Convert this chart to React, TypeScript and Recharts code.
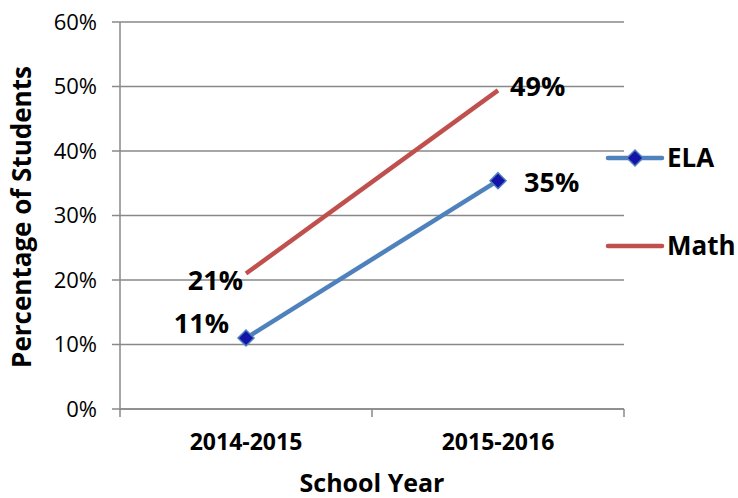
import React from 'react';
import {
  LineChart,
  Line,
  XAxis,
  YAxis,
  CartesianGrid,
  Legend,
  LabelList,
} from 'recharts';

const years = ['2014-2015', '2015-2016'];
const ela = [0.11, 0.354];
const math = [0.21, 0.494];
const yTicks = [0, 0.1, 0.2, 0.3, 0.4, 0.5, 0.6];

const data = years.map((year, i) => ({
  pos: i + 0.5,
  year,
  ela: ela[i],
  math: math[i],
}));

const FONT = '"Open Sans", sans-serif';
const GRID = '#898989';
const ELA_COLOR = '#4F81BD';
const MATH_COLOR = '#C0504D';

const pct = (v: number) => `${Math.round(v * 100)}%`;

function XTick({ x, y, payload }: any) {
  const v = payload.value;
  if (Number.isInteger(v)) {
    return <line x1={x} x2={x} y1={y} y2={y + 8} stroke={GRID} strokeWidth={1.5} />;
  }
  const label = years[Math.floor(v)];
  return (
    <text x={x} y={y + 41} textAnchor="middle" fontFamily={FONT} fontWeight={700} fontSize={23} fill="#000">
      {label}
    </text>
  );
}

function YTitle({ viewBox }: any) {
  const cx = 31;
  const cy = 217;
  return (
    <text
      x={cx}
      y={cy}
      transform={`rotate(-90 ${cx} ${cy})`}
      textAnchor="middle"
      fontFamily={FONT}
      fontWeight={700}
      fontSize={26}
      fill="#000"
    >
      Percentage of Students
    </text>
  );
}

function XTitle({ viewBox }: any) {
  const cx = viewBox.x + viewBox.width / 2;
  return (
    <text x={cx} y={492} textAnchor="middle" fontFamily={FONT} fontWeight={700} fontSize={25} fill="#000">
      School Year
    </text>
  );
}

function Diamond({ cx, cy }: any) {
  if (cx == null || cy == null) return null;
  const r = 8;
  return (
    <path
      d={`M${cx},${cy - r}L${cx + r},${cy}L${cx},${cy + r}L${cx - r},${cy}Z`}
      fill="#1414A8"
      stroke={ELA_COLOR}
      strokeWidth={1.5}
    />
  );
}

const makeLabel = (offsets: { dx: number; dy: number; anchor: string }[]) =>
  function DataLabel({ x, y, value, index }: any) {
    const o = offsets[index];
    return (
      <text
        x={x + o.dx}
        y={y + o.dy}
        textAnchor={o.anchor}
        fontFamily={FONT}
        fontWeight={700}
        fontSize={27}
        fill="#000"
      >
        {pct(value)}
      </text>
    );
  };

const elaLabel = makeLabel([
  { dx: -17, dy: -5, anchor: 'end' },
  { dx: 26, dy: 11, anchor: 'start' },
]);
const mathLabel = makeLabel([
  { dx: -3, dy: 16, anchor: 'end' },
  { dx: 12, dy: 6, anchor: 'start' },
]);

function LegendBox() {
  const items = [
    { name: 'ELA', color: ELA_COLOR, y: 18, marker: true },
    { name: 'Math', color: MATH_COLOR, y: 106, marker: false },
  ];
  return (
    <svg width={140} height={130} style={{ overflow: 'visible' }}>
      {items.map((it) => (
        <g key={it.name}>
          <line x1={8} x2={62} y1={it.y} y2={it.y} stroke={it.color} strokeWidth={4.5} strokeLinecap="round" />
          {it.marker && <Diamond cx={35} cy={it.y} />}
          <text x={67} y={it.y + 9} fontFamily={FONT} fontWeight={700} fontSize={26} fill="#000">
            {it.name}
          </text>
        </g>
      ))}
    </svg>
  );
}

export default function App() {
  return (
    <div style={{ position: 'absolute', left: 0, top: 0, background: '#fff' }}>
      <LineChart width={738} height={498} data={data} margin={{ top: 22, right: 0, bottom: 0, left: 0 }}>
        <CartesianGrid vertical={false} stroke={GRID} strokeWidth={1.5} />
        <XAxis
          dataKey="pos"
          type="number"
          domain={[0, 2]}
          ticks={[0, 0.5, 1, 1.5, 2]}
          interval={0}
          tickSize={0}
          tickMargin={0}
          tickLine={false}
          axisLine={{ stroke: GRID, strokeWidth: 1.5 }}
          tick={<XTick />}
          height={89}
          label={<XTitle />}
        />
        <YAxis
          domain={[0, 0.6]}
          ticks={yTicks}
          interval={0}
          tickFormatter={pct}
          width={120}
          tickSize={8}
          tickMargin={15}
          tickLine={{ stroke: GRID, strokeWidth: 1.5 }}
          axisLine={{ stroke: GRID, strokeWidth: 1.5 }}
          tick={{ fontFamily: FONT, fontSize: 22, fill: '#000' }}
          label={<YTitle />}
        />
        <Legend
          layout="vertical"
          align="right"
          verticalAlign="top"
          width={114}
          wrapperStyle={{ left: 600, top: 140, width: 114 }}
          content={<LegendBox />}
        />
        <Line
          dataKey="math"
          stroke={MATH_COLOR}
          strokeWidth={4.5}
          dot={false}
          isAnimationActive={false}
        >
          <LabelList dataKey="math" content={mathLabel} />
        </Line>
        <Line
          dataKey="ela"
          stroke={ELA_COLOR}
          strokeWidth={4.5}
          dot={<Diamond />}
          activeDot={false}
          isAnimationActive={false}
        >
          <LabelList dataKey="ela" content={elaLabel} />
        </Line>
      </LineChart>
    </div>
  );
}
